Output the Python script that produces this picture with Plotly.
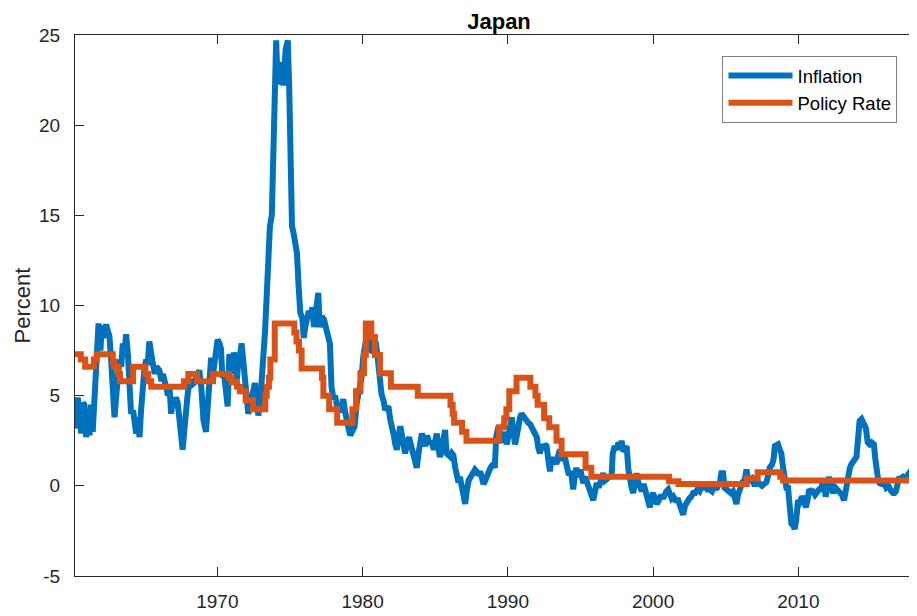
import plotly.graph_objects as go

# inflation (year, percent)
infl_year = [
    1960.20, 1960.30, 1960.39, 1960.50, 1960.63, 1960.75, 1960.85, 1960.97, 1961.10, 1961.20,
    1961.30, 1961.42, 1961.54, 1961.65, 1961.75, 1961.82, 1961.95, 1962.05, 1962.15, 1962.25,
    1962.34, 1962.45, 1962.57, 1962.70, 1962.80, 1962.92, 1963.03, 1963.15, 1963.26, 1963.38,
    1963.49, 1963.60, 1963.72, 1963.85, 1963.95, 1964.06, 1964.20, 1964.30, 1964.41, 1964.52,
    1964.64, 1964.75, 1964.86, 1964.98, 1965.10, 1965.20, 1965.32, 1965.42, 1965.55, 1965.70,
    1965.80, 1966.01, 1966.15, 1966.25, 1966.35, 1966.47, 1966.60, 1966.70, 1966.82, 1966.95,
    1967.05, 1967.15, 1967.27, 1967.39, 1967.50, 1967.61, 1967.75, 1967.85, 1967.96, 1968.10,
    1968.25, 1968.40, 1968.55, 1968.66, 1968.76, 1968.90, 1969.05, 1969.22, 1969.35, 1969.45,
    1969.57, 1969.70, 1969.80, 1969.90, 1970.02, 1970.15, 1970.25, 1970.35, 1970.48, 1970.60,
    1970.71, 1970.83, 1970.95, 1971.05, 1971.15, 1971.25, 1971.35, 1971.45, 1971.55, 1971.67,
    1971.80, 1971.90, 1972.00, 1972.13, 1972.25, 1972.35, 1972.45, 1972.59, 1972.70, 1972.82,
    1972.95, 1973.05, 1973.15, 1973.28, 1973.40, 1973.52, 1973.62, 1973.75, 1973.85, 1973.95,
    1974.05, 1974.15, 1974.25, 1974.35, 1974.45, 1974.55, 1974.70, 1974.85, 1974.95, 1975.05,
    1975.14, 1975.25, 1975.36, 1975.48, 1975.60, 1975.71, 1975.85, 1975.95, 1976.05, 1976.15,
    1976.30, 1976.40, 1976.55, 1976.65, 1976.75, 1976.85, 1976.95, 1977.05, 1977.20, 1977.35,
    1977.50, 1977.62, 1977.75, 1977.86, 1978.00, 1978.10, 1978.25, 1978.40, 1978.55, 1978.67,
    1978.80, 1978.90, 1979.05, 1979.15, 1979.30, 1979.45, 1979.60, 1979.75, 1979.93, 1980.05,
    1980.16, 1980.30, 1980.39, 1980.50, 1980.61, 1980.75, 1980.90, 1981.00, 1981.10, 1981.20,
    1981.30, 1981.45, 1981.55, 1981.65, 1981.78, 1981.90, 1982.00, 1982.15, 1982.25, 1982.36,
    1982.48, 1982.60, 1982.75, 1982.93, 1983.05, 1983.20, 1983.35, 1983.50, 1983.62, 1983.73,
    1983.85, 1984.00, 1984.08, 1984.20, 1984.30, 1984.45, 1984.60, 1984.75, 1984.90, 1985.00,
    1985.11, 1985.22, 1985.32, 1985.45, 1985.55, 1985.68, 1985.78, 1985.90, 1986.05, 1986.15,
    1986.25, 1986.38, 1986.49, 1986.60, 1986.70, 1986.80, 1986.95, 1987.06, 1987.15, 1987.30,
    1987.45, 1987.63, 1987.74, 1987.85, 1987.98, 1988.10, 1988.20, 1988.32, 1988.45, 1988.60,
    1988.75, 1988.88, 1989.00, 1989.10, 1989.20, 1989.35, 1989.50, 1989.65, 1989.80, 1989.92,
    1990.05, 1990.15, 1990.27, 1990.38, 1990.50, 1990.62, 1990.75, 1990.84, 1990.95, 1991.10,
    1991.25, 1991.40, 1991.55, 1991.70, 1991.85, 1991.99, 1992.10, 1992.21, 1992.33, 1992.45,
    1992.55, 1992.67, 1992.78, 1992.90, 1993.00, 1993.12, 1993.25, 1993.35, 1993.47, 1993.59,
    1993.70, 1993.82, 1993.95, 1994.05, 1994.20, 1994.35, 1994.50, 1994.62, 1994.72, 1994.85,
    1995.00, 1995.10, 1995.19, 1995.32, 1995.45, 1995.60, 1995.75, 1995.88, 1996.00, 1996.12,
    1996.25, 1996.40, 1996.57, 1996.70, 1996.85, 1997.00, 1997.15, 1997.22, 1997.35, 1997.50,
    1997.62, 1997.75, 1997.83, 1997.95, 1998.08, 1998.18, 1998.30, 1998.40, 1998.52, 1998.63,
    1998.75, 1998.86, 1998.98, 1999.10, 1999.22, 1999.35, 1999.48, 1999.60, 1999.70, 1999.78,
    1999.88, 2000.00, 2000.12, 2000.25, 2000.40, 2000.55, 2000.68, 2000.80, 2000.92, 2001.04,
    2001.15, 2001.28, 2001.40, 2001.55, 2001.73, 2001.90, 2002.07, 2002.20, 2002.35, 2002.50,
    2002.62, 2002.76, 2002.90, 2003.05, 2003.20, 2003.30, 2003.45, 2003.60, 2003.75, 2003.90,
    2004.05, 2004.20, 2004.35, 2004.48, 2004.60, 2004.70, 2004.82, 2004.92, 2005.05, 2005.20,
    2005.35, 2005.50, 2005.62, 2005.74, 2005.85, 2006.00, 2006.15, 2006.30, 2006.43, 2006.55,
    2006.65, 2006.80, 2006.95, 2007.10, 2007.25, 2007.35, 2007.50, 2007.65, 2007.80, 2007.90,
    2008.03, 2008.20, 2008.30, 2008.38, 2008.50, 2008.60, 2008.72, 2008.83, 2008.95, 2009.06,
    2009.18, 2009.29, 2009.40, 2009.52, 2009.65, 2009.75, 2009.85, 2009.98, 2010.10, 2010.25,
    2010.40, 2010.52, 2010.63, 2010.75, 2010.88, 2011.00, 2011.15, 2011.30, 2011.43, 2011.55,
    2011.68, 2011.78, 2011.88, 2012.00, 2012.12, 2012.25, 2012.40, 2012.55, 2012.70, 2012.85,
    2013.00, 2013.15, 2013.30, 2013.42, 2013.55, 2013.65, 2013.80, 2013.92, 2014.00, 2014.10,
    2014.22, 2014.35, 2014.45, 2014.55, 2014.65, 2014.78, 2014.91, 2015.05, 2015.20, 2015.30,
    2015.37, 2015.50, 2015.60, 2015.75, 2015.90, 2016.05, 2016.20, 2016.29, 2016.40, 2016.52,
    2016.62, 2016.72, 2016.85, 2016.95, 2017.05, 2017.20, 2017.35, 2017.50, 2017.62, 2017.75,
    2017.89, 2018.05, 2018.17,
]
infl_value = [
    3.6, 3.2, 4.9, 3.8, 2.9, 4.6, 4.5, 2.7, 3.5, 2.8,
    4.5, 3.0, 5.3, 6.0, 8.8, 9.0, 7.5, 8.9, 8.2, 8.9,
    8.95, 8.6, 8.3, 6.8, 5.7, 3.8, 4.9, 6.2, 7.0, 6.6,
    7.9, 7.4, 8.4, 7.2, 5.8, 4.0, 4.2, 3.0, 2.9, 3.8,
    2.7, 4.2, 5.7, 6.5, 7.0, 6.7, 8.0, 7.3, 6.8, 6.2,
    6.6, 6.4, 5.8, 6.2, 5.6, 5.5, 5.0, 5.6, 4.0, 4.8,
    4.5, 4.9, 4.6, 3.3, 2.6, 2.0, 3.3, 4.6, 5.1, 5.9,
    5.6, 5.7, 6.0, 6.0, 6.4, 5.4, 3.6, 3.0, 4.8, 6.6,
    7.1, 6.2, 7.0, 7.2, 8.1, 7.9, 7.6, 6.0, 6.1, 5.2,
    4.4, 7.3, 6.9, 6.2, 7.4, 6.8, 5.9, 7.0, 7.1, 7.9,
    6.6, 5.9, 4.6, 4.0, 4.3, 4.6, 5.2, 5.7, 4.6, 3.9,
    4.6, 5.4, 7.0, 8.5, 10.8, 11.8, 14.4, 15.0, 18.4, 22.0,
    24.7, 22.3, 22.5, 23.5, 22.3, 22.2, 24.2, 24.7, 22.0, 17.0,
    14.4, 14.0, 13.3, 12.9, 11.0, 9.6, 9.3, 8.2, 8.8, 9.1,
    9.7, 9.3, 9.9, 8.8, 9.5, 10.3, 10.7, 8.8, 9.4, 9.2,
    8.4, 8.3, 7.9, 5.5, 4.8, 5.0, 4.4, 4.1, 4.4, 4.8,
    4.1, 3.5, 3.1, 2.8, 3.0, 3.3, 4.6, 5.2, 6.0, 7.2,
    7.9, 8.5, 8.8, 8.1, 7.4, 7.5, 8.0, 7.4, 6.6, 6.2,
    5.1, 4.7, 4.2, 4.3, 4.4, 3.7, 3.1, 2.8, 2.3, 2.0,
    2.8, 3.3, 2.6, 1.8, 2.3, 2.7, 2.2, 1.7, 1.3, 1.0,
    1.8, 2.6, 2.9, 2.5, 2.2, 2.8, 2.3, 2.5, 2.0, 2.5,
    2.9, 2.2, 1.6, 2.0, 2.5, 3.1, 1.8, 1.7, 1.6, 1.8,
    1.7, 1.0, 0.3, 0.2, 0.5, 0.0, -0.6, -1.0, -0.4, 0.3,
    0.5, 0.8, 0.9, 0.8, 0.6, 0.8, 0.4, 0.1, 0.3, 0.7,
    0.9, 1.1, 1.2, 1.0, 2.7, 3.3, 2.8, 2.4, 3.0, 2.3,
    2.8, 3.5, 3.8, 3.0, 2.3, 2.8, 3.6, 3.8, 4.0, 3.8,
    3.7, 3.5, 3.4, 3.1, 3.0, 2.7, 2.1, 1.8, 2.3, 2.0,
    2.3, 2.2, 1.5, 0.8, 1.6, 1.2, 1.5, 1.2, 1.7, 2.0,
    1.4, 1.6, 1.5, 1.2, 0.6, 0.8, -0.2, 0.6, 1.0, 0.5,
    0.9, 0.5, 0.15, 0.5, 0.1, -0.3, -0.5, -0.8, -0.3, 0.15,
    -0.1, 0.4, 0.7, 0.3, 0.4, 0.5, 0.6, 1.8, 2.2, 2.0,
    2.4, 2.1, 2.5, 1.9, 2.1, 2.2, 0.9, 0.3, -0.1, -0.4,
    0.2, 0.7, 0.2, -0.1, -0.3, 0.1, -0.4, -0.6, -1.0, -1.2,
    -0.6, -0.4, -0.7, -1.0, -0.8, -0.5, -0.7, -0.4, -0.3, -0.2,
    -0.5, -0.7, -0.6, -0.8, -0.8, -1.2, -1.6, -1.1, -0.8, -0.7,
    -0.6, -0.4, -0.4, -0.2, -0.3, -0.1, -0.1, 0.0, -0.2, -0.2,
    -0.3, 0.0, -0.2, 0.0, 0.2, 0.7, 0.7, -0.1, -0.2, -0.2,
    -0.4, -0.3, -0.6, -1.0, -0.5, -0.1, 0.2, 0.3, 0.9, 0.3,
    0.3, 0.4, 0.1, 0.1, 0.2, 0.1, 0.0, 0.1, 0.2, 0.5,
    1.0, 1.2, 1.5, 2.2, 2.3, 2.3, 2.0, 1.8, 1.0, 0.15,
    -0.1, -0.1, -1.0, -2.1, -2.2, -2.4, -1.9, -0.8, -0.9, -0.6,
    -0.8, -1.2, -0.8, -0.2, -0.3, -0.3, -0.5, -0.3, -0.2, -0.2,
    0.2, 0.15, -0.6, -0.1, 0.5, 0.0, -0.4, -0.1, -0.2, -0.3,
    -0.5, -0.8, 0.0, 0.7, 1.0, 1.2, 1.4, 1.5, 1.6, 2.5,
    3.6, 3.7, 3.5, 3.3, 3.2, 2.4, 2.3, 2.4, 2.3, 1.5,
    0.7, 0.3, 0.15, 0.1, 0.2, -0.1, 0.0, -0.2, -0.3, -0.4,
    -0.4, -0.3, 0.5, 0.5, 0.4, 0.5, 0.4, 0.6, 0.7, 0.6,
    1.3, 1.5, 1.6,
]

# policy rate: dates where the rate changes and the new level
rate_year = [
    1960.20, 1960.60, 1960.90, 1961.50, 1961.70, 1962.80, 1962.90, 1963.20, 1963.30, 1964.20,
    1965.05, 1965.25, 1965.45, 1967.70, 1968.00, 1968.60, 1969.70, 1970.80, 1971.00, 1971.35,
    1971.55, 1971.95, 1972.45, 1973.30, 1973.40, 1973.55, 1973.65, 1973.95, 1975.30, 1975.45,
    1975.62, 1975.80, 1977.20, 1977.30, 1977.70, 1978.25, 1979.30, 1979.55, 1979.85, 1980.10,
    1980.22, 1980.60, 1980.85, 1981.20, 1981.95, 1983.80, 1986.05, 1986.20, 1986.30, 1986.85,
    1987.15, 1989.40, 1989.75, 1989.90, 1990.10, 1990.60, 1991.55, 1991.90, 1992.05, 1992.50,
    1992.85, 1993.35, 1993.70, 1995.35, 1995.75, 2001.10, 2001.75, 2006.45, 2007.20, 2008.75,
    2008.95, 2018.17,
]
rate_value = [
    7.3, 7.0, 6.6, 7.0, 7.3, 6.9, 6.6, 6.2, 5.8, 6.6,
    6.2, 5.8, 5.5, 5.8, 6.2, 5.8, 6.2, 6.0, 5.75, 5.5,
    5.25, 4.75, 4.25, 5.0, 5.5, 6.0, 7.0, 9.0, 8.5, 8.0,
    7.5, 6.5, 6.0, 5.0, 4.25, 3.5, 4.25, 5.25, 6.25, 7.25,
    9.0, 8.25, 7.25, 6.25, 5.5, 5.0, 4.5, 4.0, 3.5, 3.0,
    2.5, 3.25, 3.75, 4.25, 5.25, 6.0, 5.5, 5.0, 4.5, 3.75,
    3.25, 2.5, 1.75, 1.0, 0.5, 0.25, 0.1, 0.4, 0.75, 0.5,
    0.3, 0.3,
]

y_ticks = [-5, 0, 5, 10, 15, 20, 25]
y_tick_labels = ["-5", "0", "5", "10", "15", "20", "25"]
x_ticks = [1970, 1980, 1990, 2000, 2010]

font = "Liberation Sans, Arial, sans-serif"
axis_col = "#262626"

fig = go.Figure()
fig.add_trace(go.Scatter(x=infl_year, y=infl_value, mode="lines", name="Inflation",
                         line=dict(color="#0072BD", width=6)))
fig.add_trace(go.Scatter(x=rate_year, y=rate_value, mode="lines", name="Policy Rate",
                         line=dict(color="#D95319", width=6, shape="hv")))

# page body has an 8px margin, so the figure is sized to end at the window edge
fig.update_layout(
    width=909, height=608,
    margin=dict(l=67, r=0, t=27, b=40),
    paper_bgcolor="white", plot_bgcolor="white",
    font=dict(family=font, size=19, color=axis_col),
    title=dict(text="<b>Japan</b>", x=0.5036, xref="paper", xanchor="center",
               y=0.978, yanchor="middle", font=dict(size=22, color="black")),
    legend=dict(x=0.769, y=0.961, xanchor="left", yanchor="top",
                bgcolor="white", bordercolor="#7f7f7f", borderwidth=1,
                itemwidth=64, tracegroupgap=0,
                font=dict(size=18.5, color="black")),
)
fig.update_xaxes(range=[1960.2, 2018.17], tickvals=x_ticks, ticks="inside", ticklen=9,
                 tickcolor=axis_col, showline=True, linecolor=axis_col, linewidth=1,
                 mirror="ticks", showgrid=False, zeroline=False, ticklabelstandoff=8)
fig.update_yaxes(range=[-5, 25], tickvals=y_ticks, ticktext=y_tick_labels,
                 ticks="inside", ticklen=9,
                 tickcolor=axis_col, showline=True, linecolor=axis_col, linewidth=1,
                 showgrid=False, zeroline=False, ticklabelstandoff=10,
                 title=dict(text="Percent", font=dict(size=22), standoff=2))

fig.write_html("out.html")
